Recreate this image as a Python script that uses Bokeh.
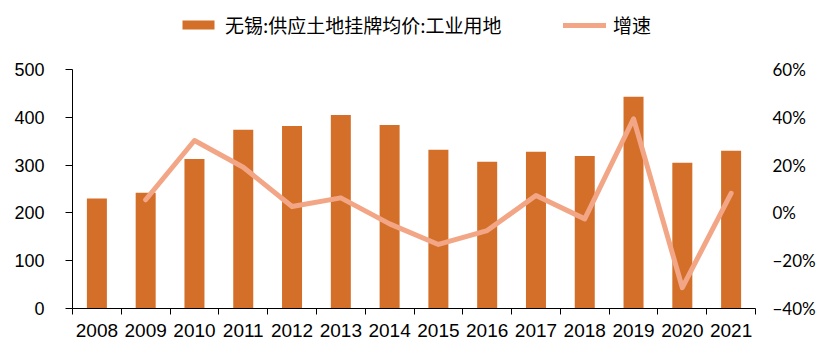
from bokeh.plotting import figure
from bokeh.models import Range1d, LinearAxis, FixedTicker, Legend, LegendItem, ColumnDataSource
from bokeh.embed import file_html
from bokeh.resources import INLINE

years = ["2008", "2009", "2010", "2011", "2012", "2013", "2014",
         "2015", "2016", "2017", "2018", "2019", "2020", "2021"]
price = [230, 242, 313, 374, 382, 405, 384, 332, 307, 328, 319, 443, 305, 330]
growth = [float("nan"), 5.5, 30.3, 19.1, 2.7, 6.3, -4.6, -13.2, -7.4, 7.3, -2.5, 39.4, -31.3, 8.2]
left_ticks = [0, 100, 200, 300, 400, 500]
right_ticks = [-40, -20, 0, 20, 40, 60]
bar_label = "无锡:供应土地挂牌均价:工业用地"
line_label = "增速"

BAR_COLOR = "#D36F29"
LINE_COLOR = "#F2A686"

# layout: frame spans the full height above the x axis; axis tops sit at 69px
FRAME_H = 308
AXIS_TOP = 69
scale = FRAME_H / (FRAME_H - AXIS_TOP)

idx = list(range(len(years)))
src = ColumnDataSource(dict(x=idx, price=price, growth=growth))

p = figure(width=827, height=354,
           x_range=Range1d(-0.5, len(years) - 0.5),
           y_range=Range1d(left_ticks[0], left_ticks[0] + (left_ticks[-1] - left_ticks[0]) * scale),
           output_backend="svg", toolbar_location=None,
           min_border_left=72, min_border_right=72,
           min_border_top=0, min_border_bottom=46)
p.title.visible = False
p.extra_y_ranges = {"g": Range1d(right_ticks[0], right_ticks[0] + (right_ticks[-1] - right_ticks[0]) * scale)}
p.outline_line_color = None
p.grid.visible = False
p.background_fill_color = "white"
p.border_fill_color = "white"

bars = p.vbar(x="x", top="price", width=0.41, source=src,
              fill_color=BAR_COLOR, line_color=None)
line = p.line(x="x", y="growth", source=src, y_range_name="g",
              line_color=LINE_COLOR, line_width=5,
              line_join="round", line_cap="round")

# x axis
xa = p.xaxis[0]
xa.ticker = FixedTicker(ticks=idx, minor_ticks=[i - 0.5 for i in range(len(years) + 1)])
xa.major_label_overrides = {i: years[i] for i in idx}
xa.major_tick_line_color = None
xa.major_tick_out = 0
xa.major_tick_in = 0
xa.minor_tick_out = 6
xa.minor_tick_in = 0
xa.minor_tick_line_color = "black"
xa.axis_line_color = "black"
xa.major_label_standoff = 9
xa.major_label_text_font = "Liberation Sans"
xa.major_label_text_font_size = "19px"
xa.major_label_text_color = "black"

# left axis
ya = p.yaxis[0]
ya.ticker = FixedTicker(ticks=left_ticks)
ya.bounds = (left_ticks[0], left_ticks[-1])
ya.axis_line_color = "black"
ya.major_tick_line_color = "black"
ya.major_tick_out = 7
ya.major_tick_in = 0
ya.minor_tick_line_color = None
ya.major_label_standoff = 21
ya.major_label_text_font = "Liberation Sans"
ya.major_label_text_font_size = "18px"
ya.major_label_text_color = "black"

# right axis
ra = LinearAxis(y_range_name="g", ticker=FixedTicker(ticks=right_ticks),
                bounds=(right_ticks[0], right_ticks[-1]),
                major_label_overrides={t: ("\u2212" if t < 0 else "") + f"{abs(t)}%" for t in right_ticks})
ra.axis_line_color = None
ra.major_tick_line_color = None
ra.minor_tick_line_color = None
ra.major_tick_out = 0
ra.major_tick_in = 0
ra.major_label_standoff = 17
ra.major_label_text_font = "Lato"
ra.major_label_text_font_size = "17px"
ra.major_label_text_color = "black"
p.add_layout(ra, "right")

def make_legend(item, x, gw, gh):
    return Legend(items=[item], location=(x, 270), orientation="horizontal",
                  border_line_color=None, background_fill_alpha=0,
                  padding=0, margin=0, spacing=0,
                  glyph_width=gw, glyph_height=gh, label_height=20,
                  label_standoff=7,
                  label_text_font="Noto Sans CJK SC",
                  label_text_font_size="19px", label_text_color="black")

p.add_layout(make_legend(LegendItem(label=bar_label, renderers=[bars]), 106, 40, 11))
p.add_layout(make_legend(LegendItem(label=line_label, renderers=[line]), 491, 43, 20))

open("out.html", "w").write(file_html(p, INLINE))
